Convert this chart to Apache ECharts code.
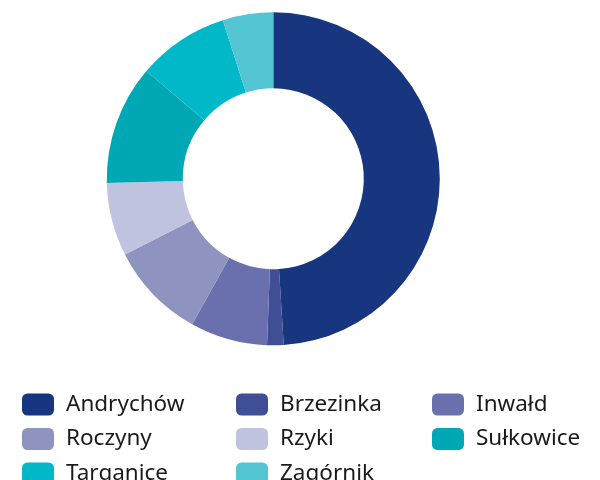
<!DOCTYPE html>
<html>
<head>
<meta charset="utf-8">
<script src="https://cdn.jsdelivr.net/npm/echarts@6/dist/echarts.min.js"></script>
<style>
  html, body { margin: 0; padding: 0; background: #fff; }
  #chart { width: 600px; height: 480px; }
</style>
</head>
<body>
<div id="chart"></div>
<script>
// udział poszczególnych miejscowości (%)
const names = ['Andrychów', 'Brzezinka', 'Inwałd', 'Roczyny', 'Rzyki', 'Sułkowice', 'Targanice', 'Zagórnik'];
const values = [49.0, 1.6, 7.5, 9.4, 7.1, 11.6, 8.9, 4.9];
const colors = ['#17367f', '#3f4e95', '#6a70ae', '#8e93c0', '#bfc3df', '#00a8b6', '#00b8c8', '#54c5d2'];

// legenda w trzech kolumnach
const legendColumns = [
  ['Andrychów', 'Roczyny', 'Targanice'],
  ['Brzezinka', 'Rzyki', 'Zagórnik'],
  ['Inwałd', 'Sułkowice']
];
const legendLeft = [22, 236, 432];

const chart = echarts.init(document.getElementById('chart'));

const legend = legendColumns.map((col, i) => ({
  orient: 'vertical',
  left: legendLeft[i],
  top: 393,
  height: 150,
  padding: 0,
  data: col,
  icon: 'roundRect',
  itemWidth: 32,
  itemHeight: 22,
  itemGap: 11.5,
  textStyle: { fontFamily: 'Noto Sans', fontSize: 22.5, color: '#1a1a1a', padding: [0, 0, 0, 7] }
}));

chart.setOption({
  animation: false,
  color: colors,
  legend,
  series: [
    {
      type: 'pie',
      center: [273.3, 178.8],
      radius: [90.5, 166.5],
      startAngle: 90,
      clockwise: true,
      label: { show: false },
      labelLine: { show: false },
      data: names.map((n, i) => ({ name: n, value: values[i] }))
    }
  ]
});
</script>
</body>
</html>
